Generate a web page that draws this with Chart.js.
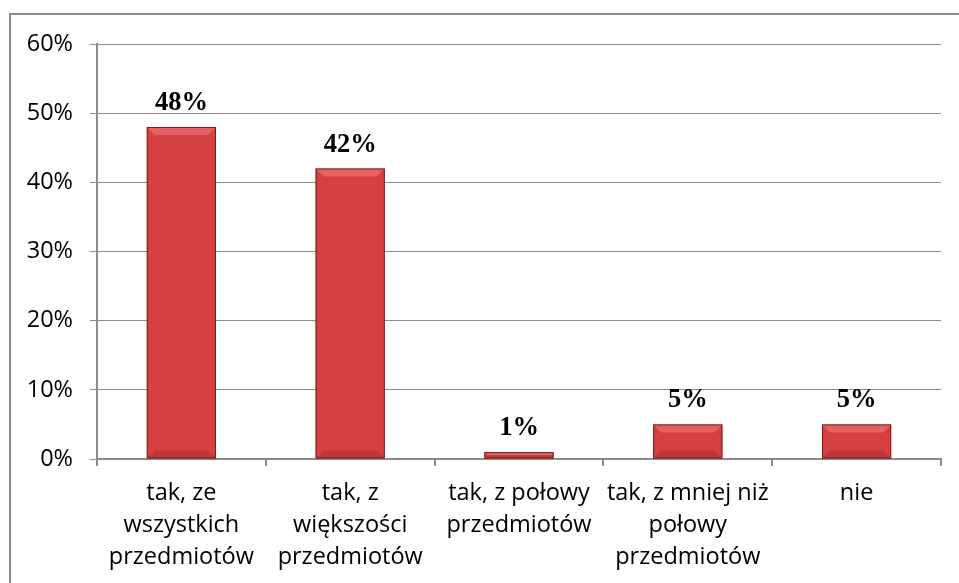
<!DOCTYPE html>
<html>
<head>
<meta charset="utf-8">
<script src="https://cdn.jsdelivr.net/npm/chart.js@4"></script>
<style>
  html, body { margin: 0; padding: 0; background: #fff; }
  #wrap { width: 959px; height: 583px; }
</style>
</head>
<body>
<div id="wrap"><canvas id="chart" width="959" height="583"></canvas></div>
<script>
// Chart data
const categories = [
    ['tak, ze', 'wszystkich', 'przedmiotów'],
    ['tak, z', 'większości', 'przedmiotów'],
    ['tak, z połowy', 'przedmiotów'],
    ['tak, z mniej niż', 'połowy', 'przedmiotów'],
    ['nie']
];
const values = [48, 42, 1, 5, 5];
const valueLabels = ['48%', '42%', '1%', '5%', '5%'];
const yTicks = [0, 10, 20, 30, 40, 50, 60];

const gridColor = '#8c8c8c';

// outer frame + bevel + value labels
const decorPlugin = {
    id: 'decor',
    beforeDraw(chart) {
        const ctx = chart.ctx;
        ctx.save();
        ctx.fillStyle = '#fff';
        ctx.fillRect(0, 0, chart.width, chart.height);
        ctx.strokeStyle = '#8c8c8c';
        ctx.lineWidth = 2;
        ctx.strokeRect(10, 14, chart.width + 10, chart.height + 10);
        ctx.restore();
    },
    afterDatasetsDraw(chart) {
        const ctx = chart.ctx;
        const meta = chart.getDatasetMeta(0);
        ctx.save();
        meta.data.forEach((bar, i) => {
            const left = bar.x - bar.width / 2;
            const right = bar.x + bar.width / 2;
            const top = bar.y;
            const bottom = bar.base;
            const h = bottom - top;
            const bev = Math.min(8, h / 2);
            // top bevel highlight
            ctx.fillStyle = 'rgba(255,150,150,0.4)';
            ctx.beginPath();
            ctx.moveTo(left, top);
            ctx.lineTo(right, top);
            ctx.lineTo(right - bev, top + bev);
            ctx.lineTo(left + bev, top + bev);
            ctx.closePath();
            ctx.fill();
            // bottom bevel shade
            ctx.fillStyle = 'rgba(90,10,10,0.18)';
            ctx.beginPath();
            ctx.moveTo(left, bottom);
            ctx.lineTo(right, bottom);
            ctx.lineTo(right - bev, bottom - bev);
            ctx.lineTo(left + bev, bottom - bev);
            ctx.closePath();
            ctx.fill();
            ctx.strokeStyle = '#7a1d1d';
            ctx.lineWidth = 1;
            ctx.strokeRect(left + 0.5, top + 0.5, bar.width - 1, h - 1);

            ctx.fillStyle = '#000';
            ctx.font = 'bold 26.5px "Liberation Serif", "Times New Roman", serif';
            ctx.textAlign = 'center';
            ctx.textBaseline = 'alphabetic';
            ctx.fillText(valueLabels[i], bar.x, top - 17);
        });
        ctx.restore();
    }
};

function barFill(context) {
    const chart = context.chart;
    const el = context.element;
    if (!chart.chartArea || !el || !el.width) return '#d64040';
    const l = el.x - el.width / 2;
    const g = chart.ctx.createLinearGradient(l, 0, l + el.width, 0);
    g.addColorStop(0, '#a82a2a');
    g.addColorStop(0.1, '#cc3b3b');
    g.addColorStop(0.5, '#da4545');
    g.addColorStop(0.9, '#cc3b3b');
    g.addColorStop(1, '#9c2525');
    return g;
}

const ctx = document.getElementById('chart').getContext('2d');
const chart = new Chart(ctx, {
    type: 'bar',
    data: {
        labels: categories,
        datasets: [{
            data: values,
            backgroundColor: barFill,
            borderWidth: 0,
            categoryPercentage: 1,
            barPercentage: 0.41
        }]
    },
    options: {
        responsive: false,
        animation: false,
        devicePixelRatio: 1,
        layout: { padding: { left: 0, right: 18, top: 44, bottom: 0 } },
        plugins: {
            legend: { display: false },
            tooltip: { enabled: false }
        },
        scales: {
            x: {
                grid: {
                    offset: true,
                    drawOnChartArea: false,
                    drawTicks: true,
                    tickLength: 7,
                    color: gridColor,
                    lineWidth: 2
                },
                border: { color: gridColor, width: 2 },
                ticks: {
                    color: '#000',
                    font: { family: '"Open Sans", sans-serif', size: 23.5, lineHeight: 1.36 },
                    padding: 11,
                    maxRotation: 0,
                    autoSkip: false
                },
                afterFit(scale) { scale.height = 124; }
            },
            y: {
                min: 0,
                max: 60,
                afterBuildTicks(scale) {
                    scale.ticks = yTicks.map(v => ({ value: v }));
                },
                grid: {
                    color: gridColor,
                    lineWidth: 1,
                    drawTicks: true,
                    tickLength: 7
                },
                border: { color: gridColor, width: 2 },
                ticks: {
                    color: '#000',
                    font: { family: '"Open Sans", sans-serif', size: 23.5 },
                    padding: 17,
                    callback: v => v + '%'
                },
                afterFit(scale) { scale.width = 97; }
            }
        }
    },
    plugins: [decorPlugin]
});
</script>
</body>
</html>
